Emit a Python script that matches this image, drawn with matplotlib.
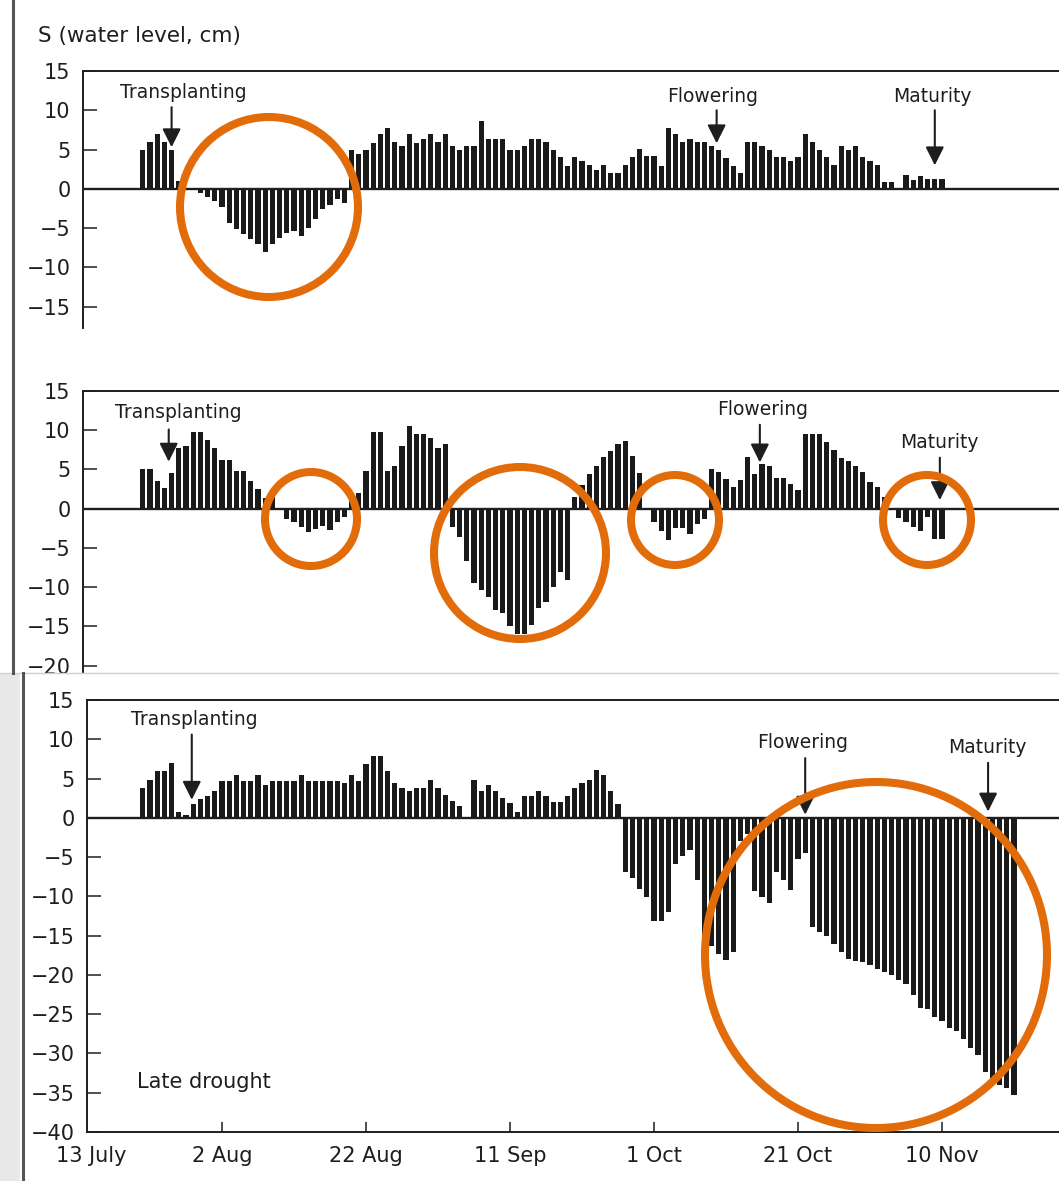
import numpy as np
import matplotlib.pyplot as plt
from matplotlib.patches import Ellipse, Rectangle
from matplotlib.lines import Line2D

plt.rcParams['font.family'] = ['DejaVu Sans']
plt.rcParams['axes.unicode_minus'] = True

INK = '#1e1e1e'
BAR = '#1a1a1a'
RING = '#E36C0A'

# days counted from 13 July; the first record is on 22 July
FIRST_DAY = 9

date_ticks = [20, 40, 60, 80, 100, 120]
date_labels = ['2 Aug', '22 Aug', '11 Sep', '1 Oct', '21 Oct', '10 Nov']

# S (water level, cm), one value per day
early_season = [
    5, 6, 7, 6, 5, 1, 0, 0,
    -0.5, -1, -1.5, -2.3, -4.3, -5.1, -5.7, -6.4, -7, -8, -7, -6.2, -5.6, -5.3,
    -6, -5, -3.8, -2.5, -2, -1.3, -1.8,
    5, 4.5, 5, 5.9, 7, 7.8, 6, 5.4, 7, 5.9, 6.3, 7, 6, 7, 5.4, 4.9, 5.4, 5.4,
    8.7, 6.3, 6.3, 6.3, 5, 5, 5.4, 6.4,
    6.4, 6, 4.9, 4, 2.9, 4, 3.5, 3, 2.4, 3, 2, 2, 3, 4.1, 5.1, 4.2, 4.2, 2.9,
    7.8, 7, 6, 6.4, 6, 6, 5.4, 4.9, 3.9, 2.9, 2, 6, 6, 5.4, 5, 4.1, 4.1, 3.5,
    4.1, 7, 6, 5, 4.1, 3, 5.4, 5, 5.4, 4.1, 3.5, 3, 0.9, 0.9, 0, 1.8, 1.1,
    1.6, 1.2, 1.2, 1.2,
]

mid_season = [
    5, 5, 3.5, 2.7, 4.6, 7.8, 8, 9.8, 9.8, 8.8, 7.8, 6.2, 6.2, 4.8, 4.8, 3.5,
    2.5, 1.4, 2, 0,
    -1.3, -1.7, -2.3, -3, -2.6, -2.2, -2.7, -1.7, -1.1,
    1.5, 2, 4.8, 9.8, 9.8, 4.8, 5.5, 8, 10.5, 9.5, 9.5, 9, 7.8, 8.3,
    -2.3, -3.6, -6.6, -9.5, -10.4, -11.2, -12.9, -13.3, -15, -15.9, -16,
    -14.8, -12.7, -11.9, -10, -8, -9.1,
    1.5, 3, 4.4, 5.5, 6.6, 7.4, 8.3, 8.6, 6.7, 4.5, 0,
    -1.7, -2.8, -4, -2.5, -2.5, -3.2, -1.9, -1.3,
    5.1, 4.7, 3.8, 2.8, 3.6, 6.6, 4.4, 5.7, 5.5, 3.9, 3.9, 3.2, 2.4, 9.5,
    9.5, 9.5, 8.5, 7.5, 6.5, 6.1, 5.5, 4.7, 3.4, 2.8, 1.5, 0,
    -1.2, -1.7, -2.3, -2.8, -1.0, -3.8, -3.8,
]

late_season = [
    3.8, 4.8, 5.9, 5.9, 7, 0.8, 0.3, 1.7, 2.4, 2.8, 3.4, 4.7, 4.7, 5.4, 4.7,
    4.7, 5.4, 4.2, 4.7, 4.7, 4.7, 4.7, 5.4, 4.7, 4.7, 4.7, 4.7, 4.7, 4.4, 5.4,
    4.7, 6.9, 7.9, 7.9, 5.9, 4.4, 3.8, 3.4, 3.8, 3.8, 4.8, 3.8, 2.9, 2.1, 1.5,
    0, 4.8, 3.4, 4.2, 3.4, 2.5, 1.9, 0.8, 2.8, 2.8, 3.4, 2.8, 2, 2, 2.8, 3.8,
    4.4, 4.8, 6.1, 5.4, 3.4, 1.8,
    -6.9, -7.7, -9.1, -10.1, -13.1, -13.1, -12, -5.9, -4.9, -4.1, -7.9, -15,
    -16.3, -17.4, -18.1, -17.1, -3, -2, -9.3, -10.1, -10.9, -6.9, -7.9, -9.2,
    -5.2, -4.5, -13.9, -14.6, -15, -16.1, -17.1, -18, -18.2, -18.4, -18.8,
    -19.3, -19.6, -20, -20.6, -21.2, -22.5, -24.2, -24.4, -25.3, -25.9, -26.8,
    -27.2, -28.2, -29.3, -30.2, -32.3, -33.2, -34, -34.4, -35.3,
]

# crop stages: (label, text day, text level, arrow day, arrow tail, arrow tip)
early_events = [
    ('Transplanting', 14.6, 12.3, 13, 10.4, 5.3),
    ('Flowering', 88.2, 11.8, 88.7, 10.0, 5.8),
    ('Maturity', 118.6, 11.7, 119.0, 10.0, 3.0),
]
mid_events = [
    ('Transplanting', 13.9, 12.2, 12.6, 10.1, 6.0),
    ('Flowering', 95.1, 12.7, 94.7, 10.7, 5.9),
    ('Maturity', 119.7, 8.4, 119.7, 6.5, 1.1),
]
late_events = [
    ('Transplanting', 16.2, 12.5, 15.8, 10.6, 2.3),
    ('Flowering', 100.7, 9.6, 101.0, 7.6, 0.4),
    ('Maturity', 126.3, 8.9, 126.4, 7.0, 0.8),
]

# highlighted dry spells: centre x, centre y, radius x, radius y (pixels)
dry_spells = [
    (269, 207, 89, 90),
    (311, 519, 46, 47),
    (520, 553, 86, 86),
    (675, 520, 44, 45),
    (927, 520, 44, 45),
    (876, 955, 171, 173),
]

W, H = 1059, 1181
DAY0_PX = 78.0
PX_PER_DAY = 7.2
RIGHT_PX = 1075

fig = plt.figure(figsize=(W / 100, H / 100), dpi=100)
fig.patch.set_facecolor('white')


def add_panel(left, top, bottom, ylim, yticks, values, events, show_dates):
    ax = fig.add_axes([left / W, 1 - bottom / H, (RIGHT_PX - left) / W, (bottom - top) / H])
    days = np.arange(FIRST_DAY, FIRST_DAY + len(values))
    ax.bar(days, values, width=0.74, color=BAR, linewidth=0, zorder=2)
    ax.axhline(0, color=INK, lw=1.7, zorder=3)
    ax.set_xlim((left - DAY0_PX) / PX_PER_DAY, (RIGHT_PX - DAY0_PX) / PX_PER_DAY)
    ax.set_ylim(*ylim)
    ax.set_yticks(yticks)
    ax.tick_params(axis='y', direction='in', length=10, width=1.1, pad=9,
                   labelsize=15, colors=INK)
    for side in ('top', 'left', 'bottom'):
        ax.spines[side].set_color(INK)
        ax.spines[side].set_linewidth(1.4)
    ax.spines['right'].set_visible(False)
    if show_dates:
        ax.set_xticks(date_ticks)
        ax.set_xticklabels(date_labels)
        ax.tick_params(axis='x', direction='in', length=7, width=1.1, pad=10,
                       labelsize=15, colors=INK)
        ax.annotate('13 July', xy=(1.9, 0), xycoords=('data', 'axes fraction'),
                    xytext=(0, -10), textcoords='offset points',
                    ha='center', va='top', fontsize=15, color=INK)
    else:
        ax.set_xticks([])
        ax.spines['bottom'].set_visible(False)
    for label, tx, ty, ax_day, tail, tip in events:
        ax.text(tx, ty, label, ha='center', va='center', fontsize=13.5, color=INK)
        ax.annotate('', xy=(ax_day, tip), xytext=(ax_day, tail),
                    arrowprops=dict(arrowstyle='-|>,head_width=0.35,head_length=0.7',
                                    color=INK, lw=1.5, mutation_scale=16,
                                    shrinkA=0, shrinkB=0))
    ax.set_facecolor('none')
    return ax


add_panel(83, 71, 328, (-17.7, 15), range(15, -20, -5), early_season, early_events, False)
add_panel(83, 391, 672, (-20.8, 15), range(15, -25, -5), mid_season, mid_events, False)
ax_late = add_panel(87, 700, 1132, (-40, 15), range(15, -45, -5), late_season, late_events, True)
ax_late.text(8.2, -33.6, 'Late drought', ha='left', va='center', fontsize=15, color=INK)

fig.text(38 / W, 1 - 36 / H, 'S (water level, cm)', ha='left', va='center',
         fontsize=15.5, color=INK)

# overlay in pixel units for the page edge and the highlight rings
over = fig.add_axes([0, 0, 1, 1], zorder=10)
over.set_xlim(0, W)
over.set_ylim(H, 0)
over.axis('off')
over.add_patch(Rectangle((0, 673), W, 13, facecolor='white', edgecolor='none'))
over.add_line(Line2D([0, W], [673, 673], color='#d0d0d0', lw=1.0))
over.add_patch(Rectangle((0, 673), 20, H - 673, facecolor='#e8e8e8', edgecolor='none'))
over.add_line(Line2D([13, 13], [0, 673], color='#555555', lw=2.2))
over.add_line(Line2D([23, 23], [673, H], color='#555555', lw=2.2))
for cx, cy, rx, ry in dry_spells:
    over.add_patch(Ellipse((cx, cy), 2 * rx, 2 * ry, fill=False,
                           edgecolor=RING, linewidth=5.8))

fig.savefig('out.png', dpi=100)
